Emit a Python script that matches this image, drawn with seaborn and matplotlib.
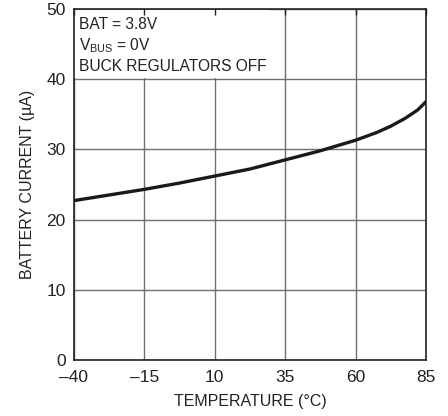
import matplotlib
matplotlib.use('Agg')
import matplotlib.pyplot as plt
import seaborn as sns
import pandas as pd

# curve
temperature = [-40, -27.5, -15, -2.5, 10, 22.5, 35, 47.5, 60, 67.5, 72.5, 77.5, 82, 85]
battery_current = [22.7, 23.5, 24.3, 25.2, 26.2, 27.2, 28.5, 29.8, 31.3, 32.4, 33.3, 34.4, 35.6, 36.8]

x_ticks = [-40, -15, 10, 35, 60, 85]
x_labels = ['\u201340', '\u201315', '10', '35', '60', '85']
y_ticks = [0, 10, 20, 30, 40, 50]

df = pd.DataFrame({'temp': temperature, 'current': battery_current})

sns.set_style('white')
plt.rcParams['font.family'] = ['Liberation Sans', 'DejaVu Sans']

fig = plt.figure(figsize=(4.48, 4.16), dpi=100)
ax = fig.add_axes([0.165, 0.1346, 0.786, 0.844])

sns.lineplot(data=df, x='temp', y='current', ax=ax, color='#1a1a1a', linewidth=2.4, zorder=4)

ax.set_xlim(-40, 85)
ax.set_ylim(0, 50)
ax.set_xticks(x_ticks)
ax.set_xticklabels(x_labels)
ax.set_yticks(y_ticks)
ax.tick_params(axis='both', length=0, labelsize=12.5, colors='#222222', pad=6)
ax.tick_params(axis='x', pad=7)
ax.set_axisbelow(True)
ax.grid(True, color='#707070', linewidth=1.0)
for s in ax.spines.values():
    s.set_color('#222222')
    s.set_linewidth(1.2)

ax.set_xlabel('TEMPERATURE (\u00b0C)', fontsize=11.5, color='#222222', labelpad=7)
ax.set_ylabel('BATTERY CURRENT (\u00b5A)', fontsize=11.5, color='#222222', labelpad=8)

ax.text(-38.2, 48.8, 'BAT = 3.8V\nV$_\\mathregular{BUS}$ = 0V\nBUCK REGULATORS OFF',
        fontsize=11.2, va='top', ha='left', color='#222222', linespacing=1.3, zorder=3)
# white patch hiding grid in the top-left corner
ax.fill_between([-39.8, 29.5], 40.15, 49.8, color='white', zorder=1.5, linewidth=0)

top = ax.secondary_xaxis('top')
top.set_xticks(x_ticks)
top.tick_params(direction='in', length=4, width=1, labeltop=False, color='#222222')
top.spines['top'].set_visible(False)
top.set_zorder(5)

fig.savefig('out.png', dpi=100)
